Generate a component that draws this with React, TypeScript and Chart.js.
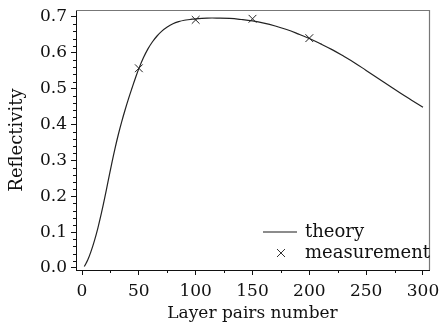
import React, { useEffect, useRef } from "react";
import { Chart, registerables } from "chart.js";

Chart.register(...registerables);

const theoryX = [2, 5, 8, 11, 14, 17, 20, 23, 26, 29, 32, 35, 38, 41, 44, 47, 50, 54, 58, 62, 66, 70, 75, 80, 85, 90, 95, 100, 110, 120, 130, 140, 150, 160, 170, 180, 190, 200, 210, 220, 230, 240, 250, 260, 270, 280, 290, 300];
const theoryY = [0.004, 0.022, 0.047, 0.077, 0.112, 0.152, 0.196, 0.243, 0.289, 0.333, 0.373, 0.409, 0.442, 0.473, 0.502, 0.53, 0.556, 0.586, 0.611, 0.631, 0.647, 0.66, 0.672, 0.681, 0.687, 0.691, 0.693, 0.695, 0.697, 0.697, 0.696, 0.693, 0.689, 0.683, 0.675, 0.665, 0.653, 0.64, 0.625, 0.609, 0.591, 0.572, 0.551, 0.53, 0.509, 0.488, 0.468, 0.448];

const measX = [50, 100, 150, 200];
const measY = [0.557, 0.692, 0.695, 0.641];

const xTicks = [0, 50, 100, 150, 200, 250, 300];
const xMinorTicks = [25, 75, 125, 175, 225, 275];
const yTicks = [0, 0.1, 0.2, 0.3, 0.4, 0.5, 0.6, 0.7];
const yMinorStep = 0.02;

const xTitle = "Layer pairs number";
const yTitle = "Reflectivity";
const theoryLabel = "theory";
const measLabel = "measurement";

const FONT = '"DejaVu Serif", serif';
const INK = "#111";

const framePlugin = {
  id: "frameAndMinor",
  afterDraw(chart: any) {
    const { ctx, chartArea, scales } = chart;
    const { left, right, top, bottom } = chartArea;
    ctx.save();
    ctx.strokeStyle = "#777";
    ctx.lineWidth = 1.2;
    ctx.beginPath();
    ctx.moveTo(left, top + 0.5);
    ctx.lineTo(right + 0.5, top + 0.5);
    ctx.lineTo(right + 0.5, bottom);
    ctx.stroke();
    ctx.strokeStyle = INK;
    ctx.lineWidth = 1;
    const ys = scales.y;
    ctx.beginPath();
    for (let v = 0; v <= 0.7 + 1e-9; v += yMinorStep) {
      const isMajor = yTicks.some((t) => Math.abs(t - v) < 1e-6);
      if (isMajor) continue;
      const py = Math.round(ys.getPixelForValue(v)) + 0.5;
      ctx.moveTo(left - 3, py);
      ctx.lineTo(left, py);
    }
    const xs = scales.x;
    for (const v of xMinorTicks) {
      const px = Math.round(xs.getPixelForValue(v)) + 0.5;
      ctx.moveTo(px, bottom);
      ctx.lineTo(px, bottom + 3);
    }
    ctx.stroke();

    const ds = chart.data.datasets;
    ctx.font = "18px " + FONT;
    ctx.fillStyle = INK;
    ctx.textBaseline = "middle";
    ctx.textAlign = "left";
    const y1 = bottom - 38;
    const y2 = bottom - 17;
    ctx.strokeStyle = "#666";
    ctx.lineWidth = 1.3;
    ctx.beginPath();
    ctx.moveTo(right - 166, y1);
    ctx.lineTo(right - 132, y1);
    ctx.stroke();
    ctx.fillText(ds[0].label, right - 124, y1);
    ctx.strokeStyle = "#333";
    ctx.lineWidth = 1;
    const cx = right - 148;
    const r = 4;
    ctx.beginPath();
    ctx.moveTo(cx - r, y2 - r);
    ctx.lineTo(cx + r, y2 + r);
    ctx.moveTo(cx - r, y2 + r);
    ctx.lineTo(cx + r, y2 - r);
    ctx.stroke();
    ctx.fillText(ds[1].label, right - 124, y2);
    ctx.restore();
  },
};

export default function App() {
  const ref = useRef<HTMLCanvasElement | null>(null);
  useEffect(() => {
    if (!ref.current) return;
    const chart = new Chart(ref.current, {
      type: "line",
      data: {
        datasets: [
          {
            label: theoryLabel,
            data: theoryX.map((x, i) => ({ x, y: theoryY[i] })),
            borderColor: "#222",
            borderWidth: 1.2,
            pointRadius: 0,
            fill: false,
            tension: 0.4,
            borderJoinStyle: "round",
          },
          {
            label: measLabel,
            data: measX.map((x, i) => ({ x, y: measY[i] })),
            showLine: false,
            pointStyle: "crossRot",
            pointRadius: 5.5,
            borderColor: "#222",
            borderWidth: 1,
          },
        ],
      },
      options: {
        animation: false,
        responsive: false,
        layout: { padding: { left: 0, top: 10, right: 10, bottom: 0 } },
        plugins: { legend: { display: false }, tooltip: { enabled: false } },
        scales: {
          x: {
            type: "linear",
            min: -5.3,
            max: 305.3,
            afterBuildTicks: (s: any) => {
              s.ticks = xTicks.map((v) => ({ value: v }));
            },
            afterFit: (s: any) => {
              s.height = 56;
              s.paddingLeft = 0;
              s.paddingRight = 0;
            },
            grid: { drawOnChartArea: false, drawTicks: true, tickLength: 5, color: INK, tickColor: INK },
            border: { color: INK, width: 1 },
            ticks: { color: INK, font: { family: FONT, size: 17 }, padding: 6, maxRotation: 0, autoSkip: false },
            title: { display: true, text: xTitle, color: INK, font: { family: FONT, size: 17 }, padding: { top: 0, bottom: 2 } },
          },
          y: {
            type: "linear",
            min: -0.0056,
            max: 0.7195,
            afterBuildTicks: (s: any) => {
              s.ticks = yTicks.map((v) => ({ value: v }));
            },
            afterFit: (s: any) => {
              s.width = 76;
              s.paddingTop = 0;
              s.paddingBottom = 0;
            },
            grid: { drawOnChartArea: false, drawTicks: true, tickLength: 5, color: INK, tickColor: INK },
            border: { color: INK, width: 1 },
            ticks: {
              color: INK,
              font: { family: FONT, size: 17 },
              padding: 4,
              autoSkip: false,
              callback: (v: any) => Number(v).toFixed(1),
            },
            title: { display: true, text: yTitle, color: INK, font: { family: FONT, size: 18 }, padding: { top: 7, bottom: 0 } },
          },
        },
      } as any,
      plugins: [framePlugin],
    });
    return () => chart.destroy();
  }, []);
  return (
    <div style={{ position: "fixed", left: 0, top: 0, width: 439, height: 326, background: "#fff" }}>
      <canvas ref={ref} width={439} height={326} style={{ display: "block" }} />
    </div>
  );
}
